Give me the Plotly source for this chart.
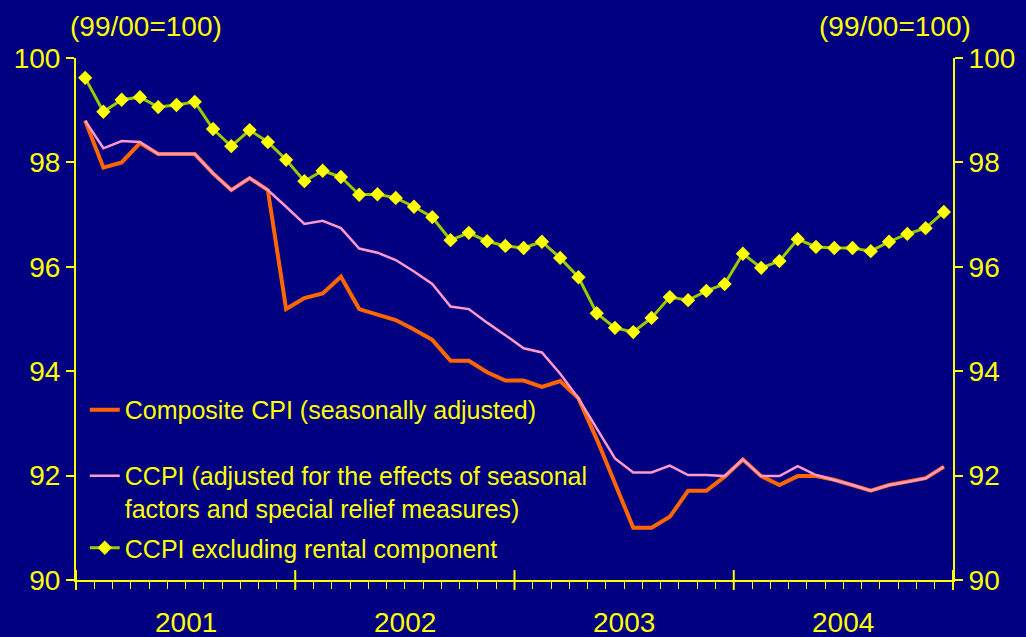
import plotly.graph_objects as go

years = ["2001", "2002", "2003", "2004"]
month_names = ["Jan", "Feb", "Mar", "Apr", "May", "Jun", "Jul", "Aug", "Sep", "Oct", "Nov", "Dec"]
months = [f"{m} {y}" for y in years for m in month_names]

composite_cpi = [
    98.80, 97.90, 98.00, 98.37, 98.16, 98.16, 98.16, 97.79, 97.47, 97.70, 97.47, 95.19,
    95.40, 95.49, 95.81, 95.19, 95.08, 94.98, 94.80, 94.60, 94.20, 94.20, 93.98, 93.82,
    93.82, 93.70, 93.81, 93.48, 92.70, 91.85, 91.00, 91.00, 91.21, 91.71, 91.71, 91.98,
    92.31, 91.99, 91.82, 91.99, 91.99, 91.92, 91.82, 91.71, 91.82, 91.88, 91.95, 92.17,
]
ccpi_adjusted = [
    98.80, 98.27, 98.41, 98.39, 98.16, 98.16, 98.16, 97.79, 97.47, 97.70, 97.47, 97.15,
    96.82, 96.88, 96.74, 96.35, 96.27, 96.13, 95.91, 95.67, 95.24, 95.19, 94.93, 94.69,
    94.44, 94.36, 93.95, 93.48, 92.90, 92.33, 92.06, 92.06, 92.19, 92.01, 92.01, 91.99,
    92.31, 91.99, 91.99, 92.18, 92.01, 91.92, 91.82, 91.71, 91.82, 91.88, 91.95, 92.17,
]
ccpi_ex_rent = [
    99.62, 98.97, 99.20, 99.25, 99.06, 99.10, 99.16, 98.64, 98.31, 98.62, 98.39, 98.05,
    97.64, 97.84, 97.72, 97.38, 97.39, 97.32, 97.15, 96.95, 96.51, 96.65, 96.49, 96.40,
    96.36, 96.48, 96.17, 95.80, 95.11, 94.83, 94.75, 95.02, 95.42, 95.36, 95.54, 95.67,
    96.25, 95.98, 96.11, 96.53, 96.38, 96.36, 96.36, 96.30, 96.48, 96.63, 96.74, 97.05,
]
y_ticks = [90, 92, 94, 96, 98, 100]

NAVY = "#000080"
YELLOW = "#FFFF00"
FONT = "Liberation Sans, Arial, sans-serif"
FS = 28
FS_LEG = 25

fig = go.Figure()
fig.add_trace(go.Scatter(
    x=months, y=composite_cpi, mode="lines", name="Composite CPI (seasonally adjusted)",
    line=dict(color="#FF6600", width=4), legend="legend"))
fig.add_trace(go.Scatter(
    x=months, y=ccpi_adjusted, mode="lines",
    name="CCPI (adjusted for the effects of seasonal<br>factors and special relief measures)",
    line=dict(color="#FF99CC", width=2.5), legend="legend2"))
fig.add_trace(go.Scatter(
    x=months, y=ccpi_ex_rent, mode="lines+markers", name="CCPI excluding rental component",
    line=dict(color="#99CC00", width=3),
    marker=dict(symbol="diamond", size=11, color=YELLOW), legend="legend3"))
fig.add_trace(go.Scatter(
    x=months, y=ccpi_ex_rent, mode="lines", yaxis="y2", showlegend=False,
    line=dict(color="rgba(0,0,0,0)"), hoverinfo="skip"))

axis_y = dict(
    range=[90, 100], tickvals=y_ticks, showgrid=False, zeroline=False,
    showline=True, linecolor=YELLOW, linewidth=2,
    ticks="outside", ticklen=8, tickwidth=2, tickcolor=YELLOW,
    tickfont=dict(family=FONT, size=FS, color=YELLOW),
)

legend_common = dict(
    xref="paper", yref="paper", x=0.010, xanchor="left", yanchor="middle",
    bgcolor="rgba(0,0,0,0)", font=dict(family=FONT, size=FS_LEG, color=YELLOW),
    valign="top", itemwidth=30,
)

shapes = []
for k in range(len(years) + 1):
    shapes.append(dict(type="line", xref="paper", yref="paper",
                       x0=k / len(years), x1=k / len(years), y0=-0.019, y1=0.019,
                       line=dict(color=YELLOW, width=2)))

annotations = [
    dict(text="(99/00=100)", xref="paper", yref="paper", x=0.08, y=1.0, yshift=32,
         xanchor="center", yanchor="middle", showarrow=False,
         font=dict(family=FONT, size=FS, color=YELLOW)),
    dict(text="(99/00=100)", xref="paper", yref="paper", x=0.934, y=1.0, yshift=32,
         xanchor="center", yanchor="middle", showarrow=False,
         font=dict(family=FONT, size=FS, color=YELLOW)),
]
for k, yr in enumerate(years):
    annotations.append(dict(text=yr, xref="paper", yref="paper", x=(k + 0.5) / len(years),
                            y=-0.0805, xanchor="center", yanchor="middle", showarrow=False,
                            font=dict(family=FONT, size=FS, color=YELLOW)))

fig.update_layout(
    width=1026, height=637,
    paper_bgcolor=NAVY, plot_bgcolor=NAVY,
    margin=dict(l=76, r=73, t=58, b=57),
    xaxis=dict(type="category", range=[-0.5, len(months) - 0.5], tickson="boundaries",
               dtick=1, showticklabels=False, showgrid=False, zeroline=False,
               showline=True, linecolor=YELLOW, linewidth=2,
               ticks="outside", ticklen=7, tickwidth=1, tickcolor=YELLOW),
    yaxis=axis_y,
    yaxis2=dict(axis_y, overlaying="y", side="right"),
    legend=dict(legend_common, y=0.3257),
    legend2=dict(legend_common, y=0.1686),
    legend3=dict(legend_common, y=0.0613),
    shapes=shapes,
    annotations=annotations,
    hovermode=False,
)

fig.write_html("out.html", config={"displayModeBar": False},
               post_script="document.body.style.margin='0';document.body.style.overflow='hidden';")
